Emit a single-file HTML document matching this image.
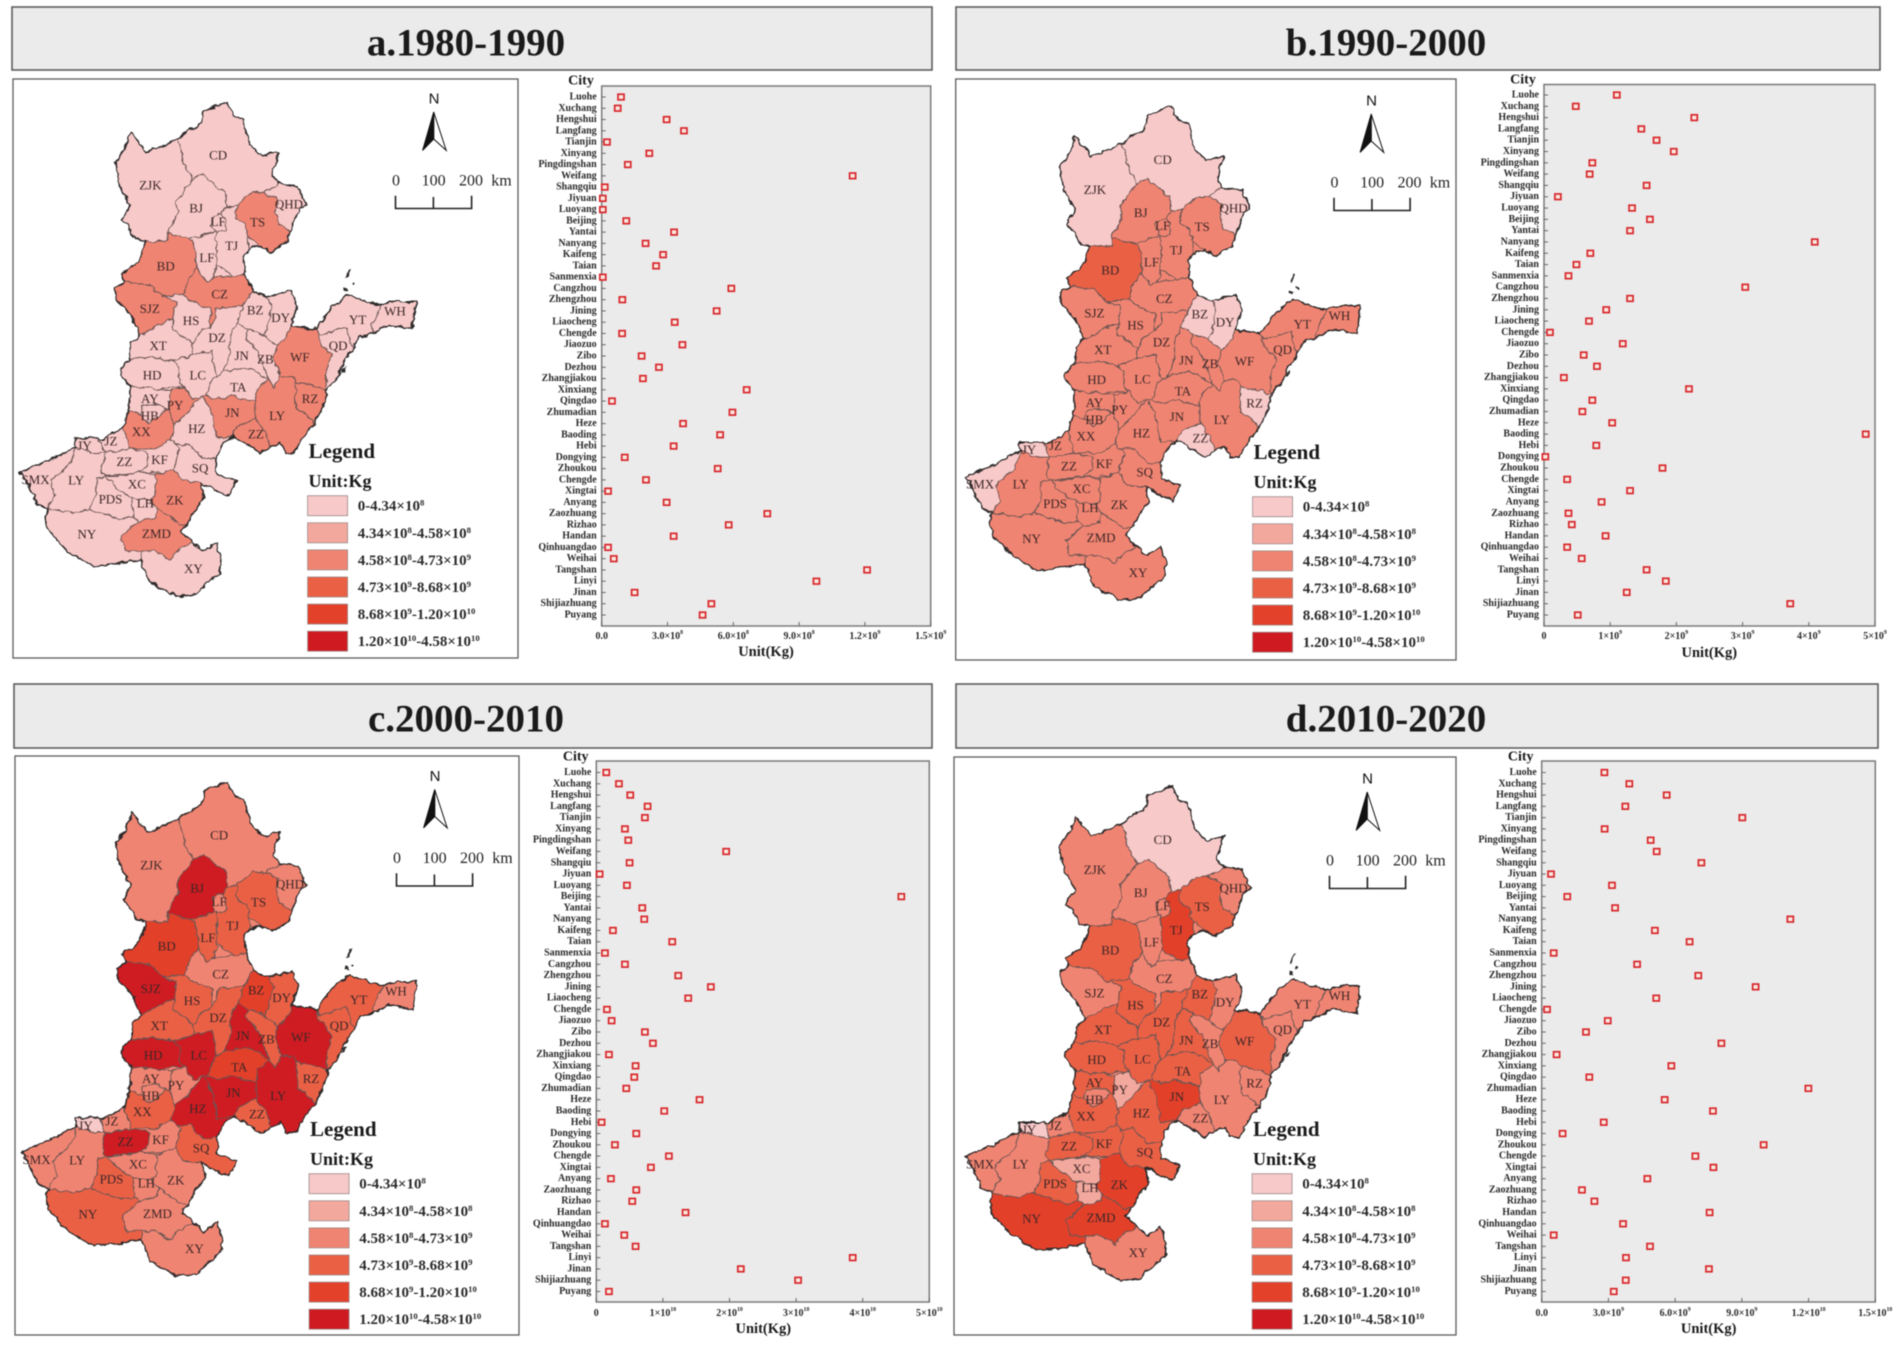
<!DOCTYPE html>
<html lang="en">
<head>
<meta charset="utf-8">
<title>Panels a-d, 1980-2020: city maps and dot plots</title>
<style>
  html, body { margin: 0; padding: 0; background: #ffffff; }
  #figure { display: block; width: 1901px; height: 1349px; filter: blur(0.55px); font-family: "Liberation Serif", serif; }
</style>
</head>
<body>
<svg id="figure" xmlns="http://www.w3.org/2000/svg" width="1901" height="1349" viewBox="0 0 1901 1349">
  <defs>
    <filter id="rough" x="-5%" y="-5%" width="110%" height="110%">
      <feTurbulence type="fractalNoise" baseFrequency="0.14" numOctaves="2" seed="4" result="noise"/>
      <feDisplacementMap in="SourceGraphic" in2="noise" scale="5.5" xChannelSelector="R" yChannelSelector="G"/>
    </filter>
  </defs>
</svg>
<script>
// ---------- chart data ----------
const categories = ["Luohe","Xuchang","Hengshui","Langfang","Tianjin","Xinyang","Pingdingshan","Weifang","Shangqiu","Jiyuan","Luoyang","Beijing","Yantai","Nanyang","Kaifeng","Taian","Sanmenxia","Cangzhou","Zhengzhou","Jining","Liaocheng","Chengde","Jiaozuo","Zibo","Dezhou","Zhangjiakou","Xinxiang","Qingdao","Zhumadian","Heze","Baoding","Hebi","Dongying","Zhoukou","Chengde","Xingtai","Anyang","Zaozhuang","Rizhao","Handan","Qinhuangdao","Weihai","Tangshan","Linyi","Jinan","Shijiazhuang","Puyang"];

// values are in units of 1e8 (a), 1e9 (b), 1e10 (c), 1e9 (d) kg
const valuesA = [0.88,0.73,2.96,3.75,0.24,2.17,1.19,11.44,0.14,0.05,0.05,1.12,3.3,2.0,2.8,2.48,0.05,5.91,0.94,5.24,3.33,0.93,3.68,1.82,2.61,1.88,6.61,0.47,5.96,3.71,5.4,3.28,1.05,5.29,2.02,0.29,2.96,7.55,5.79,3.28,0.29,0.55,12.1,9.79,1.5,5.0,4.6];
const valuesB = [1.10,0.48,2.27,1.47,1.70,1.96,0.73,0.69,1.55,0.21,1.33,1.60,1.30,4.09,0.70,0.49,0.37,3.04,1.30,0.94,0.68,0.09,1.19,0.60,0.80,0.30,2.19,0.73,0.58,1.03,4.86,0.79,0.02,1.79,0.35,1.30,0.87,0.37,0.42,0.93,0.35,0.57,1.55,1.84,1.25,3.72,0.51];
const valuesC = [0.15,0.34,0.51,0.77,0.73,0.43,0.48,1.95,0.50,0.05,0.46,4.58,0.69,0.72,0.25,1.14,0.13,0.43,1.23,1.72,1.38,0.16,0.23,0.73,0.85,0.19,0.59,0.57,0.45,1.55,1.02,0.08,0.60,0.28,1.09,0.82,0.22,0.60,0.54,1.34,0.13,0.42,0.59,3.85,2.17,3.03,0.19];
const valuesD = [2.82,3.94,5.62,3.76,9.02,2.83,4.90,5.17,7.18,0.42,3.16,1.15,3.30,11.18,5.09,6.65,0.54,4.29,7.04,9.62,5.15,0.24,2.97,1.99,8.08,0.67,5.83,2.14,11.99,5.53,7.70,2.79,0.94,9.98,6.91,7.72,4.75,1.81,2.37,7.55,3.66,0.54,4.87,3.79,7.52,3.78,3.24];

const ticksA = [0,3,6,9,12,15];
const ticksB = [0,1,2,3,4,5];
const ticksC = [0,1,2,3,4,5];
const ticksD = [0,3,6,9,12,15];
const tickLabelsA = ["0.0","3.0×10^8","6.0×10^8","9.0×10^8","1.2×10^9","1.5×10^9"];
const tickLabelsB = ["0","1×10^9","2×10^9","3×10^9","4×10^9","5×10^9"];
const tickLabelsC = ["0","1×10^10","2×10^10","3×10^10","4×10^10","5×10^10"];
const tickLabelsD = ["0.0","3.0×10^9","6.0×10^9","9.0×10^9","1.2×10^10","1.5×10^10"];

const legendLabels = ["0-4.34×10^8","4.34×10^8-4.58×10^8","4.58×10^8-4.73×10^9","4.73×10^9-8.68×10^9","8.68×10^9-1.20×10^10","1.20×10^10-4.58×10^10"];
const legendColors = ["#f7c9c9","#f3a89e","#f08472","#ea6045","#e3412a","#cf1a22"];

// class of each map region, same order as regions below
const classesA = [0,0,0,0,2,0,0,0,2,2,2,0,0,0,0,0,0,0,0,0,2,0,0,0,0,2,2,2,2,0,2,0,0,2,0,0,0,0,0,0,0,0,0,0,2,0,2,0];
const classesB = [0,0,2,0,2,2,2,2,3,2,2,2,2,2,2,2,0,0,2,2,2,2,2,2,2,0,2,2,0,2,2,2,2,2,2,0,2,2,2,0,2,2,2,2,2,2,2,2];
const classesC = [2,2,5,2,3,3,2,3,4,5,2,3,3,5,5,3,4,3,5,3,5,3,3,2,4,3,5,5,3,5,2,2,2,3,2,0,5,2,3,2,2,3,2,2,2,3,2,2];
const classesD = [2,0,2,2,3,4,2,2,3,2,2,3,3,3,3,3,3,2,3,2,3,2,2,2,3,2,2,4,2,3,1,3,2,3,2,0,3,3,3,2,2,3,1,1,4,4,4,2];

// ---------- map geometry (traced coordinates) ----------
const regions = [
 {n:"ZJK",l:[445,433],p:"340,380 375,340 385,310 420,340 430,355 470,345 525,325 545,385 570,420 540,450 520,470 525,500 495,540 495,565 430,565 400,560 380,530 360,515 385,480 355,440"},
 {n:"CD",l:[645,363],p:"525,325 560,305 595,290 600,260 670,238 690,270 720,280 740,340 775,365 825,355 805,410 825,430 780,450 745,450 700,480 670,485 665,450 640,435 600,408 570,420 545,385"},
 {n:"BJ",l:[580,487],p:"570,420 600,408 640,435 665,450 670,485 655,500 640,540 605,550 560,560 495,545 495,540 525,500 520,470 540,450"},
 {n:"QHD",l:[855,477],p:"780,450 825,430 880,435 905,480 885,490 860,540 825,525 815,500 820,465"},
 {n:"TS",l:[762,520],p:"700,480 745,450 780,450 820,465 815,500 825,525 860,540 850,565 800,590 770,575 735,555 725,525 695,510"},
 {n:"TJ",l:[685,575],p:"670,485 700,480 695,510 725,525 735,555 735,585 720,600 725,640 690,645 640,620 640,540 655,500"},
 {n:"LF",l:[645,518],p:"625,510 650,500 665,510 665,540 640,545 625,530"},
 {n:"LF",l:[612,603],p:"605,550 640,540 640,620 630,650 610,660 585,630 580,590 570,565 560,560"},
 {n:"BD",l:[490,622],p:"430,565 495,565 495,545 560,560 570,565 580,590 585,630 560,650 545,690 480,695 440,665 370,660 358,640 400,620 415,600"},
 {n:"SJZ",l:[443,722],p:"370,660 440,665 480,695 520,705 515,745 470,760 415,785 390,740 345,700 340,675"},
 {n:"CZ",l:[650,688],p:"585,630 610,660 630,650 690,645 725,640 745,680 720,715 680,720 640,720 640,745 620,765 625,725 570,705 545,690 560,650"},
 {n:"HS",l:[565,750],p:"480,695 545,690 570,705 625,725 620,765 590,780 570,805 510,770 515,745 520,705"},
 {n:"XT",l:[468,808],p:"415,785 470,760 515,745 510,770 570,805 570,830 510,845 450,835 385,840 390,800"},
 {n:"HD",l:[450,878],p:"385,840 450,835 510,845 530,860 530,895 545,905 465,910 385,905 355,875 360,860"},
 {n:"LC",l:[585,877],p:"570,830 625,820 640,880 630,885 610,925 570,935 545,905 530,895 530,860 510,845"},
 {n:"DZ",l:[642,790],p:"590,780 620,765 640,745 640,720 680,720 720,715 700,755 680,790 680,830 660,870 640,880 625,820 570,830 570,805"},
 {n:"BZ",l:[755,725],p:"720,715 745,680 790,695 805,715 790,770 780,785 735,770 700,755"},
 {n:"DY",l:[830,743],p:"790,695 860,680 880,715 860,762 845,790 820,810 780,785 790,770 805,715"},
 {n:"JN",l:[715,832],p:"700,755 735,770 725,790 760,820 795,890 745,865 720,860 660,870 680,830 680,790"},
 {n:"ZB",l:[785,840],p:"735,770 780,785 820,810 810,840 830,880 810,905 795,890 760,820 725,790"},
 {n:"WF",l:[887,835],p:"845,790 860,762 935,770 945,800 980,830 965,870 965,915 940,905 875,895 865,880 830,880 810,840 820,810"},
 {n:"QD",l:[1000,808],p:"945,785 1025,765 1035,800 1045,815 1010,860 1000,880 965,915 965,870 980,830 945,800 935,770"},
 {n:"YT",l:[1058,748],p:"935,770 980,720 1030,690 1100,710 1130,715 1100,760 1100,780 1060,790 1045,815 1035,800 1025,765 945,785"},
 {n:"WH",l:[1168,728],p:"1130,715 1170,705 1230,705 1220,770 1150,760 1100,780 1100,760"},
 {n:"TA",l:[705,905],p:"660,870 720,860 745,865 795,890 760,910 755,940 720,935 690,925 640,935 610,925 630,885 640,880"},
 {n:"RZ",l:[917,933],p:"875,895 940,905 965,915 960,945 930,990 900,965 875,955"},
 {n:"LY",l:[820,972],p:"810,905 830,880 865,880 875,895 875,955 900,965 930,990 900,1020 870,1060 845,1060 830,1035 800,1045 780,1005 755,980 755,940 760,910 795,890"},
 {n:"JN",l:[687,965],p:"600,925 610,925 640,935 690,925 720,935 755,940 755,980 700,1000 690,1020 640,1025 625,965"},
 {n:"ZZ",l:[757,1015],p:"700,1000 755,980 780,1005 800,1045 770,1060 730,1040 690,1020"},
 {n:"HZ",l:[582,1003],p:"550,970 575,945 600,925 625,965 640,1025 690,1020 665,1030 640,1070 600,1075 560,1040 520,1040 505,1030 515,995"},
 {n:"PY",l:[518,948],p:"505,915 545,905 570,935 600,925 575,945 550,970 515,995 500,960"},
 {n:"AY",l:[443,932],p:"385,905 465,910 505,915 500,960 490,955 455,945 420,950 415,970 380,960"},
 {n:"HB",l:[443,972],p:"420,950 455,945 490,955 470,975 440,990 415,970"},
 {n:"XX",l:[418,1010],p:"380,960 415,970 440,990 470,975 490,955 500,960 515,995 505,1030 460,1050 385,1050 365,1000"},
 {n:"JZ",l:[328,1032],p:"300,1030 365,1000 385,1050 310,1060 290,1025"},
 {n:"JY",l:[250,1042],p:"220,1025 290,1025 310,1060 275,1060 225,1045"},
 {n:"ZZ",l:[368,1080],p:"310,1060 385,1050 440,1060 435,1090 410,1105 310,1115 300,1105"},
 {n:"KF",l:[472,1075],p:"385,1050 460,1050 505,1030 520,1040 530,1050 515,1095 485,1105 410,1105 435,1090 440,1060"},
 {n:"SQ",l:[592,1095],p:"520,1040 560,1040 600,1075 640,1070 640,1110 700,1125 675,1160 640,1150 595,1130 540,1125 515,1095 530,1050"},
 {n:"SMX",l:[105,1122],p:"60,1105 150,1075 225,1045 205,1090 150,1125 165,1160 140,1190 110,1180 85,1135"},
 {n:"LY",l:[225,1123],p:"225,1045 275,1060 310,1060 300,1105 310,1115 285,1120 285,1160 265,1190 215,1200 140,1190 165,1160 150,1125 205,1090"},
 {n:"PDS",l:[327,1168],p:"285,1120 310,1115 340,1115 345,1140 390,1165 395,1210 355,1215 265,1190 285,1160"},
 {n:"XC",l:[405,1133],p:"340,1115 410,1105 460,1110 460,1160 445,1170 390,1165 345,1140 310,1115"},
 {n:"LH",l:[430,1177],p:"390,1165 445,1170 465,1190 460,1210 410,1220 395,1210"},
 {n:"ZK",l:[517,1170],p:"460,1110 485,1105 515,1095 540,1125 595,1130 605,1165 575,1195 555,1225 530,1225 465,1190 445,1170 460,1160"},
 {n:"NY",l:[257,1250],p:"140,1190 215,1200 265,1190 355,1215 395,1210 410,1220 395,1230 360,1255 370,1290 420,1290 415,1310 335,1320 275,1325 200,1290 140,1240 135,1210"},
 {n:"ZMD",l:[463,1248],p:"395,1230 410,1220 460,1210 465,1190 530,1225 555,1225 535,1245 570,1270 530,1285 505,1310 460,1290 420,1290 370,1290 360,1255"},
 {n:"XY",l:[572,1330],p:"420,1290 460,1290 505,1310 530,1285 570,1270 600,1290 640,1270 655,1310 650,1340 610,1365 580,1390 520,1395 440,1360 415,1310"}
];
const outline = "340,380 375,340 385,310 420,340 430,355 470,345 525,325 560,305 595,290 600,260 670,238 690,270 720,280 740,340 775,365 825,355 805,410 825,430 880,435 905,480 885,490 860,540 850,565 800,590 770,575 735,585 720,600 725,640 745,680 790,695 860,680 880,715 860,762 935,770 980,720 1030,690 1100,710 1130,715 1170,705 1230,705 1220,770 1150,760 1100,780 1060,790 1045,815 1010,860 1000,880 965,915 960,945 930,990 900,1020 870,1060 845,1060 830,1035 800,1045 770,1060 730,1040 690,1020 665,1030 640,1070 640,1110 700,1125 675,1160 640,1150 595,1130 605,1165 575,1195 555,1225 535,1245 570,1270 600,1290 640,1270 655,1310 650,1340 610,1365 580,1390 520,1395 440,1360 415,1310 335,1320 275,1325 200,1290 140,1240 135,1210 140,1190 110,1180 85,1135 60,1105 150,1075 225,1045 220,1025 290,1025 300,1030 365,1000 380,960 385,905 355,875 360,860 385,840 390,800 415,785 390,740 345,700 340,675 370,660 358,640 400,620 415,600 430,565 400,560 380,530 360,515 385,480 355,440";
const islands = ["1030,630 1038,628 1030,650 1024,652","1018,670 1030,672 1032,680 1020,678","1040,662 1046,664 1044,669 1038,667","1012,862 1024,858 1020,868 1008,872"];

// ---------- panel configuration ----------
const panels = [
 {key:"a",title:"a.1980-1990",values:valuesA,ticks:ticksA,tickLabels:tickLabelsA,classes:classesA,base:0,
  head:[12,7,920,63],titleX:466,titleY:43,frame:[13,79,505,579],mapDx:0,mapDy:0,legDx:0,legDy:0,nDx:0,nDy:0,sbDx:0,sbDy:0,
  box:[601.7,86,930.7,626],rows:[97,615],labX:596.7,cityX:581,cityY:81,unitX:766,unitY:652,tickY:636},
 {key:"b",title:"b.1990-2000",values:valuesB,ticks:ticksB,tickLabels:tickLabelsB,classes:classesB,base:2,
  head:[956,7,924,63],titleX:1386,titleY:43,frame:[955.7,79,500.3,581],mapDx:944.6,mapDy:4.3,legDx:945,legDy:1,nDx:937.5,nDy:2,sbDx:938.5,sbDy:2,
  box:[1544,84.5,1875,626],rows:[95,615],labX:1539,cityX:1523,cityY:80,unitX:1709.3,unitY:653,tickY:636},
 {key:"c",title:"c.2000-2010",values:valuesC,ticks:ticksC,tickLabels:tickLabelsC,classes:classesC,base:2,
  head:[14,684,918,64],titleX:466,titleY:719,frame:[15,756,504,579],mapDx:1,mapDy:680,legDx:1.5,legDy:678,nDx:1,nDy:677.5,sbDx:1,sbDy:677.5,
  box:[596.3,761,929.3,1302],rows:[772.5,1291.5],labX:591.3,cityX:575.7,cityY:757,unitX:763.3,unitY:1329,tickY:1313},
 {key:"d",title:"d.2010-2020",values:valuesD,ticks:ticksD,tickLabels:tickLabelsD,classes:classesD,base:2,
  head:[956,684,922,64],titleX:1386,titleY:719,frame:[954,757,502,578],mapDx:944.6,mapDy:684.3,legDx:944.5,legDy:678,nDx:933.5,nDy:680,sbDx:934,sbDy:680,
  box:[1541.7,761,1875.3,1302],rows:[772.5,1291.5],labX:1536.7,cityX:1520.7,cityY:757,unitX:1708.7,unitY:1329,tickY:1313}
];

// ---------- helpers ----------
const NS = "http://www.w3.org/2000/svg";
const root = document.getElementById("figure");
const SX = 1 / 2.958, SY = 1 / 2.34;

function make(tag, parent, attrs) {
  const el = document.createElementNS(NS, tag);
  for (const k in attrs) el.setAttribute(k, attrs[k]);
  parent.appendChild(el);
  return el;
}
// writes "3.0×10^8" as real text with a raised exponent
function writeText(el, s) {
  const parts = s.split(/\^(\d+)/);
  parts.forEach(function (part, i) {
    if (!part) return;
    const span = document.createElementNS(NS, "tspan");
    if (i % 2) { span.setAttribute("baseline-shift", "super"); span.setAttribute("font-size", "58%"); }
    span.textContent = part;
    el.appendChild(span);
  });
}
function mapPoints(str, p) {
  return str.split(" ").map(function (pair) {
    const xy = pair.split(",");
    return (p.mapDx + xy[0] * SX).toFixed(1) + "," + (p.mapDy + xy[1] * SY).toFixed(1);
  }).join(" ");
}
function xAxisScale(p, v) {
  const max = p.ticks[p.ticks.length - 1];
  return p.box[0] + (v / max) * (p.box[2] - p.box[0]);
}
function yAxisScale(p, i) {
  return p.rows[0] + (i / (categories.length - 1)) * (p.rows[1] - p.rows[0]);
}

// ---------- drawing ----------
panels.forEach(function (p) {
  const panel = make("g", root, {});
  
  

  // header bar
  const head = make("rect", panel, {x:p.head[0],y:p.head[1],width:p.head[2],height:p.head[3],fill:"#ebebeb",stroke:"#5c5c5c","stroke-width":1.6});
  
  
  const title = make("text", panel, {x:p.titleX,y:p.titleY,"text-anchor":"middle","dominant-baseline":"central","font-size":39,"font-weight":700,fill:"#1a1a1a"});
  title.textContent = p.title;
  
  

  // map frame
  const frame = make("rect", panel, {x:p.frame[0],y:p.frame[1],width:p.frame[2],height:p.frame[3],fill:"#ffffff",stroke:"#5c5c5c","stroke-width":1.3});
  
  

  // regions
  const mapGroup = make("g", panel, {filter:"url(#rough)"});
  
  
  const basePoly = make("polygon", mapGroup, {points:mapPoints(outline, p),fill:legendColors[p.base]});
  
  
  regions.forEach(function (r, i) {
    const poly = make("polygon", mapGroup, {points:mapPoints(r.p, p),fill:legendColors[p.classes[i]],stroke:"#6b5553","stroke-width":1,"stroke-linejoin":"round"});
    
    
  });
  const coast = make("polygon", mapGroup, {points:mapPoints(outline, p),fill:"none",stroke:"#2f2a2a","stroke-width":1.5,"stroke-linejoin":"round"});
  
  
  islands.forEach(function (s) {
    const isl = make("polygon", mapGroup, {points:mapPoints(s, p),fill:"#2f2a2a"});
    
    
  });
  regions.forEach(function (r) {
    const label = make("text", panel, {x:(p.mapDx + r.l[0] * SX).toFixed(1),y:(p.mapDy + r.l[1] * SY).toFixed(1),"text-anchor":"middle","dominant-baseline":"central","font-size":13,fill:"#3d2626"});
    label.textContent = r.n;
    
    
  });

  // north arrow
  const north = make("g", panel, {transform:"translate(" + p.nDx + "," + p.nDy + ")"});
  
  
  const nText = make("text", north, {x:434,y:99,"text-anchor":"middle","dominant-baseline":"central","font-family":"Liberation Sans, sans-serif","font-size":15,fill:"#111"});
  nText.textContent = "N";
  make("polygon", north, {points:"433.7,112 446.2,150.4 433.7,139",fill:"#ffffff",stroke:"#111","stroke-width":1});
  make("polygon", north, {points:"433.7,112 422.6,150.4 433.7,139",fill:"#111",stroke:"#111","stroke-width":1});

  // scale bar
  const bar = make("g", panel, {transform:"translate(" + p.sbDx + "," + p.sbDy + ")"});
  
  
  make("path", bar, {d:"M395.5 195.7V208.5H471.6V195.7M433.4 197V208.5",fill:"none",stroke:"#222","stroke-width":1.6});
  [["0",396,"middle"],["100",433.6,"middle"],["200",471,"middle"],["km",501.5,"middle"]].forEach(function (t) {
    const st = make("text", bar, {x:t[1],y:181,"text-anchor":t[2],"dominant-baseline":"central","font-size":16,fill:"#222"});
    st.textContent = t[0];
  });

  // legend
  const legend = make("g", panel, {transform:"translate(" + p.legDx + "," + p.legDy + ")"});
  
  
  const lt = make("text", legend, {x:308.5,y:451,"dominant-baseline":"central","font-size":21,"font-weight":700,fill:"#1a1a1a"});
  lt.textContent = "Legend";
  const lu = make("text", legend, {x:308.5,y:481,"dominant-baseline":"central","font-size":18,"font-weight":700,fill:"#1a1a1a"});
  lu.textContent = "Unit:Kg";
  legendLabels.forEach(function (lab, i) {
    const y = 495.7 + i * 27.1;
    const sw = make("rect", legend, {x:307.6,y:y,width:40,height:20,fill:legendColors[i],stroke:"#9a8a88","stroke-width":0.8});
    
    
    const tx = make("text", legend, {x:357.7,y:y + 15,"font-size":15,"font-weight":700,fill:"#2a2a2a"});
    writeText(tx, lab);
    
    
  });

  // dot chart
  const chart = make("g", panel, {});
  
  
  const plot = make("rect", chart, {x:p.box[0],y:p.box[1],width:p.box[2]-p.box[0],height:p.box[3]-p.box[1],fill:"#ebebeb",stroke:"#7a7a7a","stroke-width":1.5});
  
  

  const city = make("text", chart, {x:p.cityX,y:p.cityY,"text-anchor":"middle","dominant-baseline":"central","font-size":14,"font-weight":700,fill:"#1a1a1a"});
  city.textContent = "City";
  
  
  const unit = make("text", chart, {x:p.unitX,y:p.unitY,"text-anchor":"middle","dominant-baseline":"central","font-size":14.5,"font-weight":700,fill:"#1a1a1a"});
  unit.textContent = "Unit(Kg)";
  
  

  p.ticks.forEach(function (t, i) {
    const x = xAxisScale(p, t);
    const tick = make("line", chart, {x1:x,x2:x,y1:p.box[3],y2:p.box[3]-4,stroke:"#666","stroke-width":1});
    
    
    const lab = make("text", chart, {x:x,y:p.tickY,"text-anchor":"middle","dominant-baseline":"central","font-size":10,"font-weight":700,fill:"#2a2a2a"});
    writeText(lab, p.tickLabels[i]);
    
    
  });

  categories.forEach(function (c, i) {
    const y = yAxisScale(p, i);
    const tick = make("line", chart, {x1:p.box[0],x2:p.box[0]+4,y1:y,y2:y,stroke:"#666","stroke-width":1});
    
    
    const lab = make("text", chart, {x:p.labX,y:y,"text-anchor":"end","dominant-baseline":"central","font-size":10,"font-weight":700,fill:"#2a2a2a"});
    lab.textContent = c;
    
    
  });

  p.values.forEach(function (v, i) {
    const x = xAxisScale(p, v);
    const y = yAxisScale(p, i);
    const dot = make("rect", chart, {x:x-3,y:y-2.8,width:6,height:5.6,fill:"#f8e8df",stroke:"#d8262b","stroke-width":1.7});
    
    
  });
});
</script>
</body>
</html>
